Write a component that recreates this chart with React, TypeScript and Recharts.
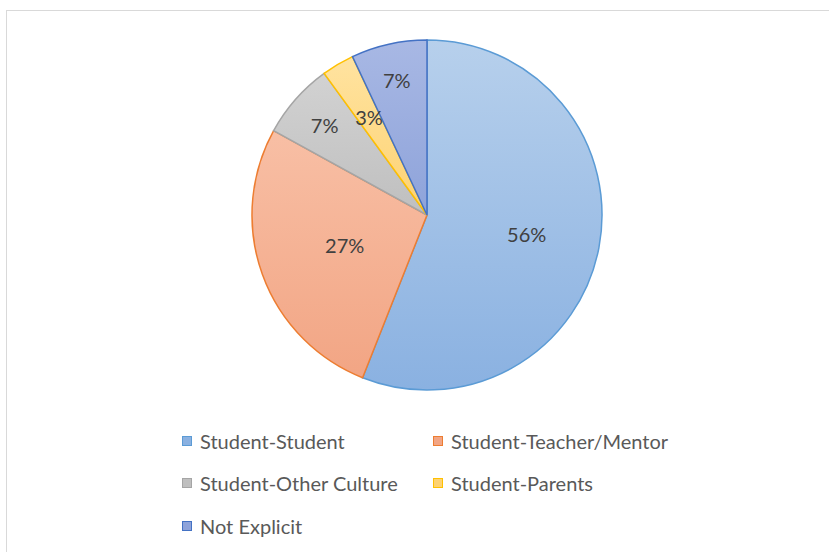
import { PieChart, Pie, Cell, Legend } from "recharts";

const categories = [
  "Student-Student",
  "Student-Teacher/Mentor",
  "Student-Other Culture",
  "Student-Parents",
  "Not Explicit",
];
const shares = [56, 27, 7, 3, 7];

const fillTop = ["#B7D0EC", "#F8BFA5", "#D2D2D2", "#FFE3A0", "#A8B8E4"];
const fillBottom = ["#8AB1E1", "#F2A584", "#BFBFBF", "#FDD272", "#8EA3DA"];
const strokes = ["#5B9BD5", "#ED7D31", "#A5A5A5", "#FFC000", "#4472C4"];

// how far out each percentage label sits, as a share of the radius
const labelRadius = [0.58, 0.5, 0.78, 0.65, 0.79];

const data = categories.map((name, i) => ({ name, value: shares[i] }));

const RAD = Math.PI / 180;
const FONT = "Lato, 'Open Sans', sans-serif";

const renderLabel = (props: any) => {
  const { cx, cy, midAngle, outerRadius, index, value } = props;
  const r = outerRadius * labelRadius[index];
  const x = cx + r * Math.cos(-midAngle * RAD);
  const y = cy + r * Math.sin(-midAngle * RAD);
  return (
    <text
      x={x}
      y={y}
      fill="#404040"
      fontSize={20}
      fontFamily={FONT}
      textAnchor="middle"
      dominantBaseline="central"
    >
      {`${value}%`}
    </text>
  );
};

const legendPos = [
  { x: 182, y: 441 },
  { x: 433, y: 441 },
  { x: 182, y: 483 },
  { x: 433, y: 483 },
  { x: 182, y: 526 },
];

const renderLegend = () => (
  <div style={{ position: "relative", width: 829, height: 552 }}>
    {categories.map((name, i) => (
      <div
        key={name}
        style={{
          position: "absolute",
          left: legendPos[i].x,
          top: legendPos[i].y - 13,
          height: 26,
          display: "flex",
          alignItems: "center",
          fontFamily: FONT,
          fontSize: 20,
          color: "#595959",
          whiteSpace: "nowrap",
        }}
      >
        <span
          style={{
            display: "inline-block",
            width: 8,
            height: 8,
            background: fillBottom[i],
            border: `1.5px solid ${strokes[i]}`,
            marginRight: 8,
          }}
        />
        {name}
      </div>
    ))}
  </div>
);

export default function App() {
  return (
    <div
      style={{
        position: "absolute",
        left: 0,
        top: 0,
        width: 829,
        height: 552,
        background: "#fff",
        overflow: "hidden",
      }}
    >
      <div
        style={{
          position: "absolute",
          left: 6,
          top: 10,
          width: 840,
          height: 560,
          border: "1.5px solid #D9D9D9",
        }}
      />
      <PieChart
        width={829}
        height={552}
        margin={{ top: 0, right: 0, bottom: 0, left: 0 }}
        style={{ position: "absolute", left: 0, top: 0 }}
      >
        <defs>
          {categories.map((_, i) => (
            <linearGradient key={i} id={`g${i}`} x1="0" y1="0" x2="0" y2="1">
              <stop offset="0%" stopColor={fillTop[i]} />
              <stop offset="100%" stopColor={fillBottom[i]} />
            </linearGradient>
          ))}
        </defs>
        <Pie
          data={data}
          dataKey="value"
          nameKey="name"
          cx={427}
          cy={215}
          outerRadius={175}
          startAngle={90}
          endAngle={-270}
          label={renderLabel}
          labelLine={false}
          isAnimationActive={false}
        >
          {data.map((_, i) => (
            <Cell key={i} fill={`url(#g${i})`} stroke={strokes[i]} strokeWidth={1.5} />
          ))}
        </Pie>
        <Legend
          content={renderLegend}
          wrapperStyle={{ position: "absolute", left: 0, top: 0, width: 829, height: 552 }}
        />
      </PieChart>
    </div>
  );
}
